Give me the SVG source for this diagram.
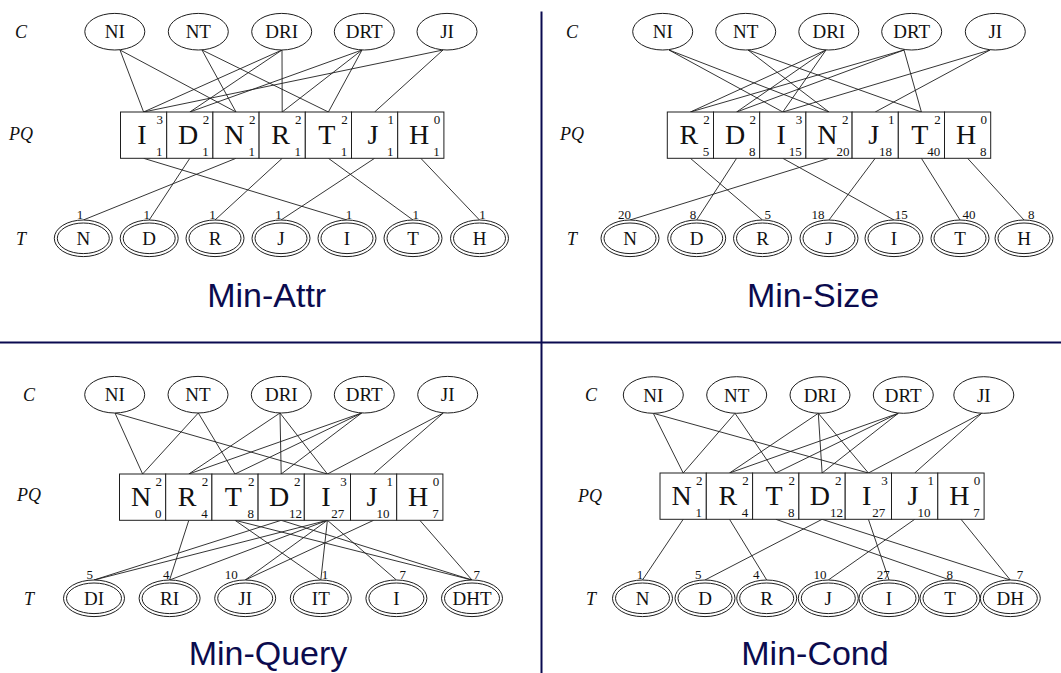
<svg xmlns="http://www.w3.org/2000/svg" width="1061" height="673" viewBox="0 0 1061 673">
  <style>
    .ln { stroke: #1e1e1e; stroke-width: 0.9; fill: none; }
    .cn { fill: #fff; stroke: #1e1e1e; stroke-width: 1; }
    .to { fill: #fff; stroke: #1e1e1e; stroke-width: 1; }
    .ti { fill: none; stroke: #1e1e1e; stroke-width: 1; }
    .cell { fill: #fff; stroke: #1e1e1e; stroke-width: 1; }
    .tx { font-family: "Liberation Serif", "Times New Roman", serif; fill: #111; }
    .cl { font-size: 19px; text-anchor: middle; }
    .tl { font-size: 19px; text-anchor: middle; }
    .big { font-size: 28px; text-anchor: middle; }
    .sm { font-size: 13px; text-anchor: end; }
    .num { font-size: 13px; text-anchor: middle; }
    .side { font-size: 18px; font-style: italic; text-anchor: middle; }
    .title { font-family: "Liberation Sans", Arial, sans-serif; font-size: 34px; fill: #0b0b4e; text-anchor: middle; }
    .rule { stroke: #0a0a50; stroke-width: 2; }
  </style>

  <!-- panel rules -->
  <g id="rules">
    <line class="rule" x1="0" y1="342.5" x2="1061" y2="342.5"/>
    <line class="rule" x1="541.5" y1="11.5" x2="541.5" y2="673"/>
  </g>

  <!-- ================= Min-Attr ================= -->
  <g id="min-attr">
    <g id="q1-edges">
      <path class="ln" d="M120 50L236 112M120 50L143.6 112M202 50L236 112M202 50L328.4 112M282 50L189.8 112M282 50L282.2 112M282 50L143.6 112M362 50L189.8 112M362 50L282.2 112M362 50L328.4 112M443 50L374.6 112M443 50L143.6 112"/>
      <path class="ln" d="M143.6 158.3L347 220M189.8 158.3L149.2 220M236 158.3L83.3 220M282.2 158.3L215 220M328.4 158.3L413 220M374.6 158.3L281 220M420.8 158.3L479.5 220"/>
    </g>
    <text class="tx side" x="21" y="38">C</text>
    <text class="tx side" x="21" y="140">PQ</text>
    <text class="tx side" x="21" y="245">T</text>

    <g id="q1-c-NI"><ellipse class="cn" cx="114.8" cy="31.7" rx="30" ry="18.3"/><text class="tx cl" x="114.8" y="38.2">NI</text></g>
    <g id="q1-c-NT"><ellipse class="cn" cx="198.3" cy="31.7" rx="30" ry="18.3"/><text class="tx cl" x="198.3" y="38.2">NT</text></g>
    <g id="q1-c-DRI"><ellipse class="cn" cx="281.7" cy="31.7" rx="30" ry="18.3"/><text class="tx cl" x="281.7" y="38.2">DRI</text></g>
    <g id="q1-c-DRT"><ellipse class="cn" cx="364.3" cy="31.7" rx="30" ry="18.3"/><text class="tx cl" x="364.3" y="38.2">DRT</text></g>
    <g id="q1-c-JI"><ellipse class="cn" cx="447" cy="31.7" rx="30" ry="18.3"/><text class="tx cl" x="447" y="38.2">JI</text></g>

    <g id="q1-pq-I" transform="translate(120.5,112)"><rect class="cell" width="46.2" height="46.3"/><text class="tx big" x="21.5" y="32">I</text><text class="tx sm" x="42.5" y="12">3</text><text class="tx sm" x="42" y="43.5">1</text></g>
    <g id="q1-pq-D" transform="translate(166.7,112)"><rect class="cell" width="46.2" height="46.3"/><text class="tx big" x="21.5" y="32">D</text><text class="tx sm" x="42.5" y="12">2</text><text class="tx sm" x="42" y="43.5">1</text></g>
    <g id="q1-pq-N" transform="translate(212.9,112)"><rect class="cell" width="46.2" height="46.3"/><text class="tx big" x="21.5" y="32">N</text><text class="tx sm" x="42.5" y="12">2</text><text class="tx sm" x="42" y="43.5">1</text></g>
    <g id="q1-pq-R" transform="translate(259.1,112)"><rect class="cell" width="46.2" height="46.3"/><text class="tx big" x="21.5" y="32">R</text><text class="tx sm" x="42.5" y="12">2</text><text class="tx sm" x="42" y="43.5">1</text></g>
    <g id="q1-pq-T" transform="translate(305.3,112)"><rect class="cell" width="46.2" height="46.3"/><text class="tx big" x="21.5" y="32">T</text><text class="tx sm" x="42.5" y="12">2</text><text class="tx sm" x="42" y="43.5">1</text></g>
    <g id="q1-pq-J" transform="translate(351.5,112)"><rect class="cell" width="46.2" height="46.3"/><text class="tx big" x="21.5" y="32">J</text><text class="tx sm" x="42.5" y="12">1</text><text class="tx sm" x="42" y="43.5">1</text></g>
    <g id="q1-pq-H" transform="translate(397.7,112)"><rect class="cell" width="46.2" height="46.3"/><text class="tx big" x="21.5" y="32">H</text><text class="tx sm" x="42.5" y="12">0</text><text class="tx sm" x="42" y="43.5">1</text></g>

    <g id="q1-t-N"><ellipse class="to" cx="83.3" cy="238.3" rx="29" ry="18.3"/><ellipse class="ti" cx="83.3" cy="238.3" rx="26" ry="15.3"/><text class="tx tl" x="83.3" y="244.8">N</text><text class="tx num" x="80" y="219">1</text></g>
    <g id="q1-t-D"><ellipse class="to" cx="149.2" cy="238.3" rx="29" ry="18.3"/><ellipse class="ti" cx="149.2" cy="238.3" rx="26" ry="15.3"/><text class="tx tl" x="149.2" y="244.8">D</text><text class="tx num" x="146.7" y="219">1</text></g>
    <g id="q1-t-R"><ellipse class="to" cx="215" cy="238.3" rx="29" ry="18.3"/><ellipse class="ti" cx="215" cy="238.3" rx="26" ry="15.3"/><text class="tx tl" x="215" y="244.8">R</text><text class="tx num" x="212.5" y="219">1</text></g>
    <g id="q1-t-J"><ellipse class="to" cx="281" cy="238.3" rx="29" ry="18.3"/><ellipse class="ti" cx="281" cy="238.3" rx="26" ry="15.3"/><text class="tx tl" x="281" y="244.8">J</text><text class="tx num" x="278.5" y="219">1</text></g>
    <g id="q1-t-I"><ellipse class="to" cx="347" cy="238.3" rx="29" ry="18.3"/><ellipse class="ti" cx="347" cy="238.3" rx="26" ry="15.3"/><text class="tx tl" x="347" y="244.8">I</text><text class="tx num" x="349" y="219">1</text></g>
    <g id="q1-t-T"><ellipse class="to" cx="413" cy="238.3" rx="29" ry="18.3"/><ellipse class="ti" cx="413" cy="238.3" rx="26" ry="15.3"/><text class="tx tl" x="413" y="244.8">T</text><text class="tx num" x="415.8" y="219">1</text></g>
    <g id="q1-t-H"><ellipse class="to" cx="479.5" cy="238.3" rx="29" ry="18.3"/><ellipse class="ti" cx="479.5" cy="238.3" rx="26" ry="15.3"/><text class="tx tl" x="479.5" y="244.8">H</text><text class="tx num" x="482.5" y="219">1</text></g>

    <text class="title" x="266.7" y="307">Min-Attr</text>
  </g>

  <!-- ================= Min-Size ================= -->
  <g id="min-size">
    <g id="q2-edges">
      <path class="ln" d="M669 50L829 112M669 50L782.8 112M748 50L829 112M748 50L921.4 112M826 50L736.6 112M826 50L690.4 112M826 50L782.8 112M904 50L736.6 112M904 50L690.4 112M904 50L921.4 112M990 50L875.2 112M990 50L782.8 112"/>
      <path class="ln" d="M690.4 158.3L762.5 220M736.6 158.3L696.7 220M782.8 158.3L894 220M829 158.3L630 220M875.2 158.3L829 220M921.4 158.3L960 220M967.6 158.3L1024 220"/>
    </g>
    <text class="tx side" x="572" y="38">C</text>
    <text class="tx side" x="572" y="140">PQ</text>
    <text class="tx side" x="572" y="245">T</text>

    <g id="q2-c-NI"><ellipse class="cn" cx="662.7" cy="31.7" rx="30" ry="18.3"/><text class="tx cl" x="662.7" y="38.2">NI</text></g>
    <g id="q2-c-NT"><ellipse class="cn" cx="745.7" cy="31.7" rx="30" ry="18.3"/><text class="tx cl" x="745.7" y="38.2">NT</text></g>
    <g id="q2-c-DRI"><ellipse class="cn" cx="828.8" cy="31.7" rx="30" ry="18.3"/><text class="tx cl" x="828.8" y="38.2">DRI</text></g>
    <g id="q2-c-DRT"><ellipse class="cn" cx="911.7" cy="31.7" rx="30" ry="18.3"/><text class="tx cl" x="911.7" y="38.2">DRT</text></g>
    <g id="q2-c-JI"><ellipse class="cn" cx="995.3" cy="31.7" rx="30" ry="18.3"/><text class="tx cl" x="995.3" y="38.2">JI</text></g>

    <g id="q2-pq-R" transform="translate(667.3,112)"><rect class="cell" width="46.2" height="46.3"/><text class="tx big" x="21.5" y="32">R</text><text class="tx sm" x="42.5" y="12">2</text><text class="tx sm" x="42" y="43.5">5</text></g>
    <g id="q2-pq-D" transform="translate(713.5,112)"><rect class="cell" width="46.2" height="46.3"/><text class="tx big" x="21.5" y="32">D</text><text class="tx sm" x="42.5" y="12">2</text><text class="tx sm" x="42" y="43.5">8</text></g>
    <g id="q2-pq-I" transform="translate(759.7,112)"><rect class="cell" width="46.2" height="46.3"/><text class="tx big" x="21.5" y="32">I</text><text class="tx sm" x="42.5" y="12">3</text><text class="tx sm" x="42" y="43.5">15</text></g>
    <g id="q2-pq-N" transform="translate(805.9,112)"><rect class="cell" width="46.2" height="46.3"/><text class="tx big" x="21.5" y="32">N</text><text class="tx sm" x="42.5" y="12">2</text><text class="tx sm" x="43.5" y="43.5">20</text></g>
    <g id="q2-pq-J" transform="translate(852.1,112)"><rect class="cell" width="46.2" height="46.3"/><text class="tx big" x="21.5" y="32">J</text><text class="tx sm" x="42.5" y="12">1</text><text class="tx sm" x="40" y="43.5">18</text></g>
    <g id="q2-pq-T" transform="translate(898.3,112)"><rect class="cell" width="46.2" height="46.3"/><text class="tx big" x="21.5" y="32">T</text><text class="tx sm" x="42.5" y="12">2</text><text class="tx sm" x="42" y="43.5">40</text></g>
    <g id="q2-pq-H" transform="translate(944.5,112)"><rect class="cell" width="46.2" height="46.3"/><text class="tx big" x="21.5" y="32">H</text><text class="tx sm" x="42.5" y="12">0</text><text class="tx sm" x="42" y="43.5">8</text></g>

    <g id="q2-t-N"><ellipse class="to" cx="630" cy="238.3" rx="29" ry="18.3"/><ellipse class="ti" cx="630" cy="238.3" rx="26" ry="15.3"/><text class="tx tl" x="630" y="244.8">N</text><text class="tx num" x="624.5" y="219">20</text></g>
    <g id="q2-t-D"><ellipse class="to" cx="696.7" cy="238.3" rx="29" ry="18.3"/><ellipse class="ti" cx="696.7" cy="238.3" rx="26" ry="15.3"/><text class="tx tl" x="696.7" y="244.8">D</text><text class="tx num" x="693" y="219">8</text></g>
    <g id="q2-t-R"><ellipse class="to" cx="762.5" cy="238.3" rx="29" ry="18.3"/><ellipse class="ti" cx="762.5" cy="238.3" rx="26" ry="15.3"/><text class="tx tl" x="762.5" y="244.8">R</text><text class="tx num" x="767.8" y="219">5</text></g>
    <g id="q2-t-J"><ellipse class="to" cx="829" cy="238.3" rx="29" ry="18.3"/><ellipse class="ti" cx="829" cy="238.3" rx="26" ry="15.3"/><text class="tx tl" x="829" y="244.8">J</text><text class="tx num" x="818" y="219">18</text></g>
    <g id="q2-t-I"><ellipse class="to" cx="894" cy="238.3" rx="29" ry="18.3"/><ellipse class="ti" cx="894" cy="238.3" rx="26" ry="15.3"/><text class="tx tl" x="894" y="244.8">I</text><text class="tx num" x="901.3" y="219">15</text></g>
    <g id="q2-t-T"><ellipse class="to" cx="960" cy="238.3" rx="29" ry="18.3"/><ellipse class="ti" cx="960" cy="238.3" rx="26" ry="15.3"/><text class="tx tl" x="960" y="244.8">T</text><text class="tx num" x="969" y="219">40</text></g>
    <g id="q2-t-H"><ellipse class="to" cx="1024" cy="238.3" rx="29" ry="18.3"/><ellipse class="ti" cx="1024" cy="238.3" rx="26" ry="15.3"/><text class="tx tl" x="1024" y="244.8">H</text><text class="tx num" x="1031.3" y="219">8</text></g>

    <text class="title" x="813" y="307">Min-Size</text>
  </g>

  <!-- ================= Min-Query ================= -->
  <g id="min-query">
    <g id="q3-edges">
      <path class="ln" d="M115 413L142.6 474M115 413L327.4 474M198.3 413L142.6 474M198.3 413L235 474M280 413L281.2 474M280 413L188.8 474M280 413L327.4 474M361.7 413L281.2 474M361.7 413L188.8 474M361.7 413L235 474M443.3 413L373.6 474M443.3 413L327.4 474"/>
      <path class="ln" d="M188.8 520.3L169.6 580M235 520.3L320.8 580M235 520.3L472 580M281.2 520.3L94 580M281.2 520.3L472 580M327.4 520.3L94 580M327.4 520.3L169.6 580M327.4 520.3L245.2 580M327.4 520.3L320.8 580M327.4 520.3L396.4 580M373.6 520.3L245.2 580M419.8 520.3L472 580"/>
    </g>
    <text class="tx side" x="29" y="401">C</text>
    <text class="tx side" x="29" y="501">PQ</text>
    <text class="tx side" x="29" y="605">T</text>

    <g id="q3-c-NI"><ellipse class="cn" cx="114.7" cy="394.7" rx="30" ry="18.3"/><text class="tx cl" x="114.7" y="401.2">NI</text></g>
    <g id="q3-c-NT"><ellipse class="cn" cx="198" cy="394.7" rx="30" ry="18.3"/><text class="tx cl" x="198" y="401.2">NT</text></g>
    <g id="q3-c-DRI"><ellipse class="cn" cx="281.3" cy="394.7" rx="30" ry="18.3"/><text class="tx cl" x="281.3" y="401.2">DRI</text></g>
    <g id="q3-c-DRT"><ellipse class="cn" cx="364.3" cy="394.7" rx="30" ry="18.3"/><text class="tx cl" x="364.3" y="401.2">DRT</text></g>
    <g id="q3-c-JI"><ellipse class="cn" cx="447.7" cy="394.7" rx="30" ry="18.3"/><text class="tx cl" x="447.7" y="401.2">JI</text></g>

    <g id="q3-pq-N" transform="translate(119.5,474)"><rect class="cell" width="46.2" height="46.3"/><text class="tx big" x="21.5" y="32">N</text><text class="tx sm" x="42.5" y="12">2</text><text class="tx sm" x="42" y="43.5">0</text></g>
    <g id="q3-pq-R" transform="translate(165.7,474)"><rect class="cell" width="46.2" height="46.3"/><text class="tx big" x="21.5" y="32">R</text><text class="tx sm" x="42.5" y="12">2</text><text class="tx sm" x="42" y="43.5">4</text></g>
    <g id="q3-pq-T" transform="translate(211.9,474)"><rect class="cell" width="46.2" height="46.3"/><text class="tx big" x="21.5" y="32">T</text><text class="tx sm" x="42.5" y="12">2</text><text class="tx sm" x="42" y="43.5">8</text></g>
    <g id="q3-pq-D" transform="translate(258.1,474)"><rect class="cell" width="46.2" height="46.3"/><text class="tx big" x="21" y="32">D</text><text class="tx sm" x="44" y="43.5">12</text><text class="tx sm" x="42.5" y="12">2</text></g>
    <g id="q3-pq-I" transform="translate(304.3,474)"><rect class="cell" width="46.2" height="46.3"/><text class="tx big" x="21.5" y="32">I</text><text class="tx sm" x="42.5" y="12">3</text><text class="tx sm" x="40" y="43.5">27</text></g>
    <g id="q3-pq-J" transform="translate(350.5,474)"><rect class="cell" width="46.2" height="46.3"/><text class="tx big" x="21.5" y="32">J</text><text class="tx sm" x="42.5" y="12">1</text><text class="tx sm" x="39" y="43.5">10</text></g>
    <g id="q3-pq-H" transform="translate(396.7,474)"><rect class="cell" width="46.2" height="46.3"/><text class="tx big" x="21.5" y="32">H</text><text class="tx sm" x="42.5" y="12">0</text><text class="tx sm" x="42" y="43.5">7</text></g>

    <g id="q3-t-DI"><ellipse class="to" cx="94" cy="598.3" rx="30.5" ry="18.3"/><ellipse class="ti" cx="94" cy="598.3" rx="27.5" ry="15.3"/><text class="tx tl" x="94" y="604.8">DI</text><text class="tx num" x="89.7" y="579">5</text></g>
    <g id="q3-t-RI"><ellipse class="to" cx="169.6" cy="598.3" rx="30.5" ry="18.3"/><ellipse class="ti" cx="169.6" cy="598.3" rx="27.5" ry="15.3"/><text class="tx tl" x="169.6" y="604.8">RI</text><text class="tx num" x="166.3" y="579">4</text></g>
    <g id="q3-t-JI"><ellipse class="to" cx="245.2" cy="598.3" rx="30.5" ry="18.3"/><ellipse class="ti" cx="245.2" cy="598.3" rx="27.5" ry="15.3"/><text class="tx tl" x="245.2" y="604.8">JI</text><text class="tx num" x="231.2" y="579">10</text></g>
    <g id="q3-t-IT"><ellipse class="to" cx="320.8" cy="598.3" rx="30.5" ry="18.3"/><ellipse class="ti" cx="320.8" cy="598.3" rx="27.5" ry="15.3"/><text class="tx tl" x="320.8" y="604.8">IT</text><text class="tx num" x="325" y="579">1</text></g>
    <g id="q3-t-I"><ellipse class="to" cx="396.4" cy="598.3" rx="30.5" ry="18.3"/><ellipse class="ti" cx="396.4" cy="598.3" rx="27.5" ry="15.3"/><text class="tx tl" x="396.4" y="604.8">I</text><text class="tx num" x="402.7" y="579">7</text></g>
    <g id="q3-t-DHT"><ellipse class="to" cx="472" cy="598.3" rx="30.5" ry="18.3"/><ellipse class="ti" cx="472" cy="598.3" rx="27.5" ry="15.3"/><text class="tx tl" x="472" y="604.8">DHT</text><text class="tx num" x="476.7" y="579">7</text></g>

    <text class="title" x="268" y="665">Min-Query</text>
  </g>

  <!-- ================= Min-Cond ================= -->
  <g id="min-cond">
    <g id="q4-edges">
      <path class="ln" d="M653.3 413.3L683.2 473M653.3 413.3L868.4 473M735 413.3L683.2 473M735 413.3L775.8 473M818.3 413.3L822.1 473M818.3 413.3L729.5 473M818.3 413.3L868.4 473M898.3 413.3L822.1 473M898.3 413.3L729.5 473M898.3 413.3L775.8 473M981.7 413.3L914.7 473M981.7 413.3L868.4 473"/>
      <path class="ln" d="M683.2 519.3L642.5 580M729.5 519.3L766.7 580M775.8 519.3L950 580M822.1 519.3L705 580M822.1 519.3L1010.3 580M868.4 519.3L889 580M914.7 519.3L828.3 580M961 519.3L1010.3 580"/>
    </g>
    <text class="tx side" x="591" y="401">C</text>
    <text class="tx side" x="590" y="502">PQ</text>
    <text class="tx side" x="591" y="605">T</text>

    <g id="q4-c-NI"><ellipse class="cn" cx="653.3" cy="395" rx="30" ry="18.3"/><text class="tx cl" x="653.3" y="401.5">NI</text></g>
    <g id="q4-c-NT"><ellipse class="cn" cx="736.7" cy="395" rx="30" ry="18.3"/><text class="tx cl" x="736.7" y="401.5">NT</text></g>
    <g id="q4-c-DRI"><ellipse class="cn" cx="820" cy="395" rx="30" ry="18.3"/><text class="tx cl" x="820" y="401.5">DRI</text></g>
    <g id="q4-c-DRT"><ellipse class="cn" cx="903.3" cy="395" rx="30" ry="18.3"/><text class="tx cl" x="903.3" y="401.5">DRT</text></g>
    <g id="q4-c-JI"><ellipse class="cn" cx="983.8" cy="395" rx="30" ry="18.3"/><text class="tx cl" x="983.8" y="401.5">JI</text></g>

    <g id="q4-pq-N" transform="translate(660,473)"><rect class="cell" width="46.3" height="46.3"/><text class="tx big" x="21.5" y="32">N</text><text class="tx sm" x="42.5" y="12">2</text><text class="tx sm" x="42" y="43.5">1</text></g>
    <g id="q4-pq-R" transform="translate(706.3,473)"><rect class="cell" width="46.3" height="46.3"/><text class="tx big" x="21.5" y="32">R</text><text class="tx sm" x="42.5" y="12">2</text><text class="tx sm" x="42" y="43.5">4</text></g>
    <g id="q4-pq-T" transform="translate(752.6,473)"><rect class="cell" width="46.3" height="46.3"/><text class="tx big" x="21.5" y="32">T</text><text class="tx sm" x="42.5" y="12">2</text><text class="tx sm" x="42" y="43.5">8</text></g>
    <g id="q4-pq-D" transform="translate(798.9,473)"><rect class="cell" width="46.3" height="46.3"/><text class="tx big" x="21" y="32">D</text><text class="tx sm" x="44" y="43.5">12</text><text class="tx sm" x="42.5" y="12">2</text></g>
    <g id="q4-pq-I" transform="translate(845.2,473)"><rect class="cell" width="46.3" height="46.3"/><text class="tx big" x="21.5" y="32">I</text><text class="tx sm" x="42.5" y="12">3</text><text class="tx sm" x="40" y="43.5">27</text></g>
    <g id="q4-pq-J" transform="translate(891.5,473)"><rect class="cell" width="46.3" height="46.3"/><text class="tx big" x="21.5" y="32">J</text><text class="tx sm" x="42.5" y="12">1</text><text class="tx sm" x="39" y="43.5">10</text></g>
    <g id="q4-pq-H" transform="translate(937.8,473)"><rect class="cell" width="46.3" height="46.3"/><text class="tx big" x="21.5" y="32">H</text><text class="tx sm" x="42.5" y="12">0</text><text class="tx sm" x="42" y="43.5">7</text></g>

    <g id="q4-t-N"><ellipse class="to" cx="642.5" cy="598.3" rx="30" ry="18.3"/><ellipse class="ti" cx="642.5" cy="598.3" rx="27" ry="15.3"/><text class="tx tl" x="642.5" y="604.8">N</text><text class="tx num" x="640" y="578.5">1</text></g>
    <g id="q4-t-D"><ellipse class="to" cx="705" cy="598.3" rx="30" ry="18.3"/><ellipse class="ti" cx="705" cy="598.3" rx="27" ry="15.3"/><text class="tx tl" x="705" y="604.8">D</text><text class="tx num" x="698.3" y="578.5">5</text></g>
    <g id="q4-t-R"><ellipse class="to" cx="766.7" cy="598.3" rx="30" ry="18.3"/><ellipse class="ti" cx="766.7" cy="598.3" rx="27" ry="15.3"/><text class="tx tl" x="766.7" y="604.8">R</text><text class="tx num" x="756.3" y="578.5">4</text></g>
    <g id="q4-t-J"><ellipse class="to" cx="828.3" cy="598.3" rx="30" ry="18.3"/><ellipse class="ti" cx="828.3" cy="598.3" rx="27" ry="15.3"/><text class="tx tl" x="828.3" y="604.8">J</text><text class="tx num" x="820" y="578.5">10</text></g>
    <g id="q4-t-I"><ellipse class="to" cx="889" cy="598.3" rx="30" ry="18.3"/><ellipse class="ti" cx="889" cy="598.3" rx="27" ry="15.3"/><text class="tx tl" x="889" y="604.8">I</text><text class="tx num" x="883.3" y="578.5">27</text></g>
    <g id="q4-t-T"><ellipse class="to" cx="950" cy="598.3" rx="30" ry="18.3"/><ellipse class="ti" cx="950" cy="598.3" rx="27" ry="15.3"/><text class="tx tl" x="950" y="604.8">T</text><text class="tx num" x="949.7" y="578.5">8</text></g>
    <g id="q4-t-DH"><ellipse class="to" cx="1010.3" cy="598.3" rx="30" ry="18.3"/><ellipse class="ti" cx="1010.3" cy="598.3" rx="27" ry="15.3"/><text class="tx tl" x="1010.3" y="604.8">DH</text><text class="tx num" x="1020" y="578.5">7</text></g>

    <text class="title" x="815" y="665">Min-Cond</text>
  </g>
</svg>
